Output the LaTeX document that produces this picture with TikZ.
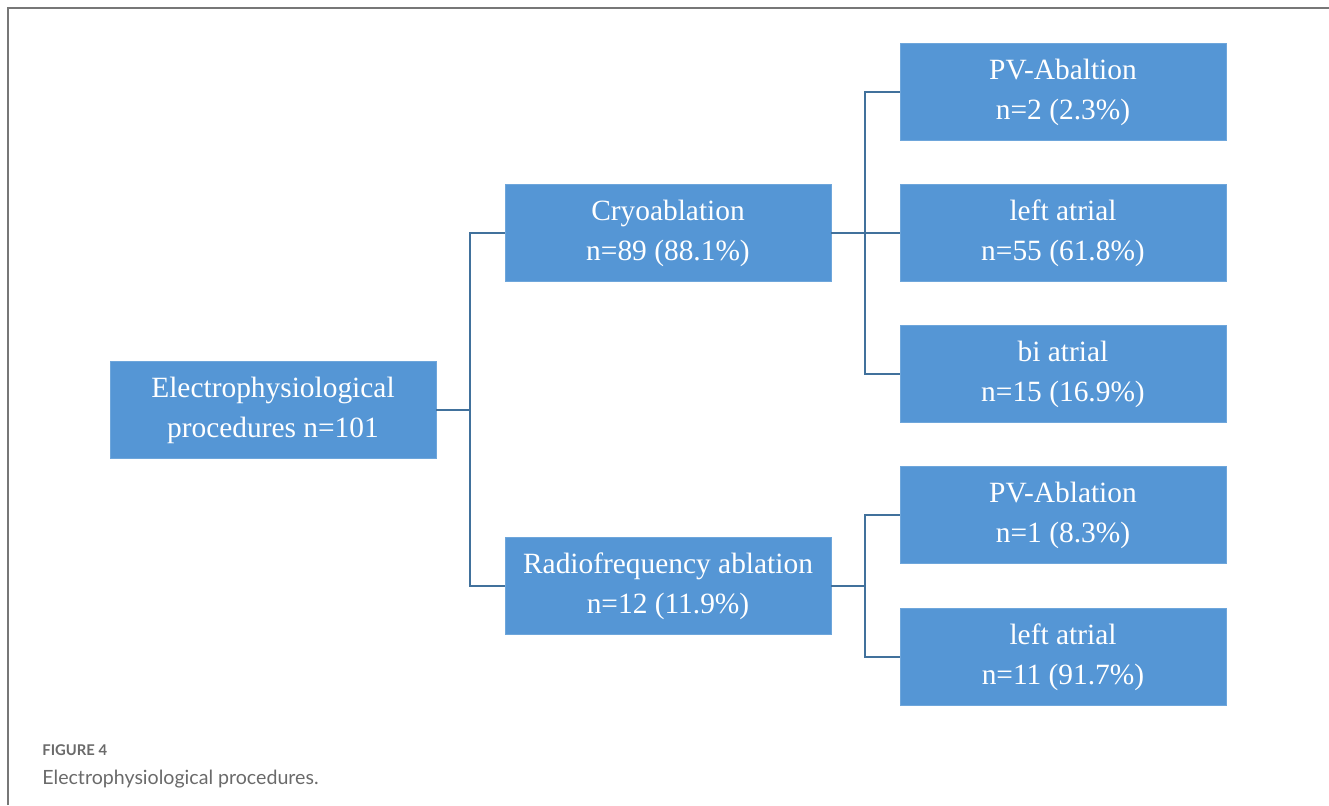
\documentclass[tikz,border=0pt]{standalone}
\usepackage{fontspec}
\setmainfont{Liberation Serif}
\newfontfamily\capfont{Lato}
\definecolor{boxblue}{HTML}{5596D5}
\definecolor{linkblue}{HTML}{41719C}
\definecolor{framegray}{HTML}{777777}
\definecolor{capgray}{HTML}{6A6A6A}
\tikzstyle{procbox}=[fill=boxblue, draw=boxblue!85!white, line width=0.3pt, text=white,
	minimum width=163pt, minimum height=48.5pt, inner sep=0pt, align=center,
	font=\fontsize{14.7}{20}\selectfont]
\tikzstyle{link}=[draw=linkblue, line width=1.2pt]

\begin{document}
\begin{tikzpicture}[x=0.5pt, y=-0.5pt]
\useasboundingbox (0,0) rectangle (1329,805);
\draw[framegray, line width=1pt] (8,805) -- (8,8) -- (1329,8);

% boxes
\node[procbox] (root) at (273,410) {Electrophysiological\\procedures n=101};
\node[procbox] (cryo) at (668,233) {Cryoablation\\n=89 (88.1\%)};
\node[procbox] (rf) at (668,586) {Radiofrequency ablation\\n=12 (11.9\%)};
\node[procbox] (cpv) at (1063,92) {PV-Abaltion\\n=2 (2.3\%)};
\node[procbox] (cla) at (1063,233) {left atrial\\n=55 (61.8\%)};
\node[procbox] (cba) at (1063,374) {bi atrial\\n=15 (16.9\%)};
\node[procbox] (rpv) at (1063,515) {PV-Ablation\\n=1 (8.3\%)};
\node[procbox] (rla) at (1063,657) {left atrial\\n=11 (91.7\%)};

% connectors
\coordinate (jroot) at (470,410);
\coordinate (jcryo) at (865,233);
\coordinate (jrf) at (865,586);
\draw[link] (root.east) -- (jroot);
\foreach \t in {cryo,rf} {
	\draw[link] (jroot) |- (\t.west);
}
\draw[link] (cryo.east) -- (jcryo);
\foreach \t in {cpv,cla,cba} {
	\draw[link] (jcryo) |- (\t.west);
}
\draw[link] (rf.east) -- (jrf);
\foreach \t in {rpv,rla} {
	\draw[link] (jrf) |- (\t.west);
}

% caption
\node[anchor=base west, inner sep=0pt, text=capgray, font=\capfont\bfseries\fontsize{7.4}{9}\selectfont] (figno) at (42,755) {FIGURE 4};
\node[anchor=base west, inner sep=0pt, text=capgray, font=\capfont\fontsize{9.8}{12}\selectfont] (figcap) at (42,784) {Electrophysiological procedures.};
\end{tikzpicture}
\end{document}
